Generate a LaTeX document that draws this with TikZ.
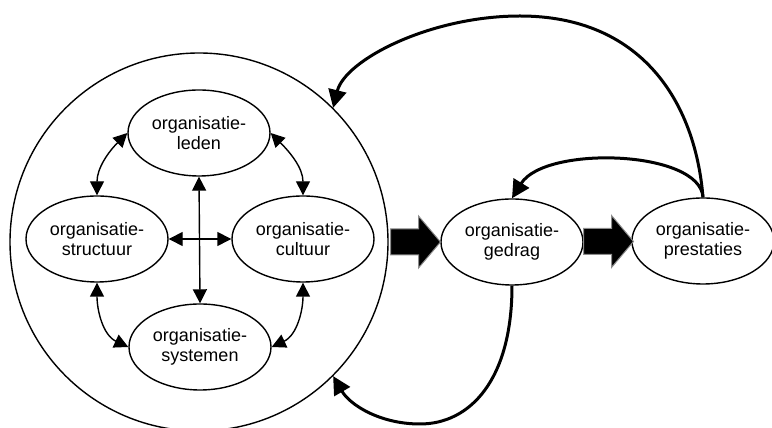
\documentclass[tikz,border=0pt]{standalone}
\usepackage{fontspec}
\setmainfont{Liberation Sans}
\usetikzlibrary{shapes.geometric, arrows.meta, calc}

\begin{document}
\begin{tikzpicture}[x=1pt, y=1pt,
	begrip/.style={ellipse, draw, line width=1.4pt, minimum width=142pt, minimum height=86pt, inner sep=0pt, align=center, font=\fontsize{18}{20.5}\selectfont},
	wissel/.style={{Triangle[length=14pt,width=14pt]}-{Triangle[length=14pt,width=14pt]}, line width=1.4pt},
	terug/.style={-{Triangle[length=18pt,width=18pt]}, line width=3pt},
	blok/.style={fill=black, draw=black!45, line width=1pt, line join=miter}]
	\useasboundingbox (0,0) rectangle (772,428);
	\coordinate (boogtop) at (520,412);
	\coordinate (boogbodem) at (420,4);
	% The big circle with the four aspects inside
	\node[circle, draw, line width=1.4pt, minimum size=378pt, inner sep=0pt] (kring) at (199,186) {};
	\node[begrip] (leden) at (199,295) {organisatie-\\leden};
	\node[begrip] (structuur) at (97,189) {organisatie-\\structuur};
	\node[begrip] (cultuur) at (303,189) {organisatie-\\cultuur};
	\node[begrip] (systemen) at (200,81) {organisatie-\\systemen};
	% Behaviour and performance
	\node[begrip] (gedrag) at (512,186) {organisatie-\\gedrag};
	\node[begrip] (prestaties) at (703,187) {organisatie-\\prestaties};
	% Mutual influence inside the circle
	\draw[wissel] (structuur.north) to[out=90,in=225] (leden.west);
	\draw[wissel] (cultuur.north) to[out=90,in=-45] (leden.east);
	\draw[wissel] (structuur.south) to[out=-90,in=155] (systemen.west);
	\draw[wissel] (cultuur.south) to[out=-90,in=25] (systemen.east);
	\draw[wissel] (leden.south) -- (systemen.north);
	\draw[wissel] (structuur.east) -- (cultuur.west);
	% Block arrows
	\filldraw[blok, shift={($(kring.east)!0.5!(gedrag.west)$)}] (-24,-13) -- (4,-13) -- (4,-26) -- (26,0) -- (4,26) -- (4,13) -- (-24,13) -- cycle;
	\filldraw[blok, shift={($(gedrag.east)!0.5!(prestaties.west)$)}] (-24,-13) -- (4,-13) -- (4,-26) -- (26,0) -- (4,26) -- (4,13) -- (-24,13) -- cycle;
	% Feedback loops
	\draw[terug] (prestaties.north) .. controls (695,328) and (640,412) .. (boogtop) .. controls (430,412) and (345,368) .. (kring.45);
	\draw[terug] (prestaties.north) .. controls (700,278) and (545,283) .. (gedrag.north);
	\draw[terug] (gedrag.south) .. controls (512,48) and (470,4) .. (boogbodem) .. controls (380,4) and (350,23) .. (kring.315);
\end{tikzpicture}
\end{document}
